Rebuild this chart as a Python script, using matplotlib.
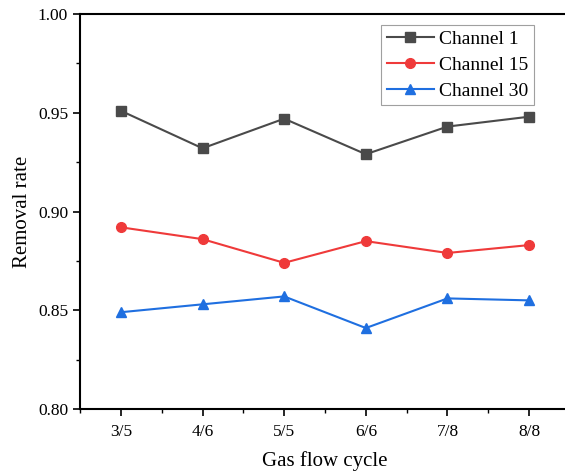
import matplotlib
matplotlib.use("Agg")
import matplotlib.pyplot as plt
from matplotlib.ticker import MultipleLocator, AutoMinorLocator

plt.rcParams["font.family"] = ["Liberation Serif", "DejaVu Serif"]

cycles = ["3/5", "4/6", "5/5", "6/6", "7/8", "8/8"]
channel_1 = [0.951, 0.932, 0.947, 0.929, 0.943, 0.948]
channel_15 = [0.892, 0.886, 0.874, 0.885, 0.879, 0.883]
channel_30 = [0.849, 0.853, 0.857, 0.841, 0.856, 0.855]

fig = plt.figure(figsize=(5.65, 4.73), dpi=100)
# axes run a little past the right edge, like the cropped original
ax = fig.add_axes([80 / 565, 1 - 409 / 473, 490 / 565, 395 / 473])

x = range(len(cycles))
ax.plot(x, channel_1, color="#4a4a4a", marker="s", ms=6.5, lw=1.5, label="Channel 1")
ax.plot(x, channel_15, color="#ef3a3a", marker="o", ms=7, lw=1.5, label="Channel 15")
ax.plot(x, channel_30, color="#1f6fe0", marker="^", ms=7.5, lw=1.5, label="Channel 30")

ax.set_xlim(-0.5, 5.5)
ax.set_ylim(0.80, 1.00)
ax.set_xticks(list(x))
ax.set_xticklabels(cycles)
ax.xaxis.set_minor_locator(MultipleLocator(0.5))
ax.yaxis.set_major_locator(MultipleLocator(0.05))
ax.yaxis.set_minor_locator(AutoMinorLocator(2))
ax.yaxis.set_major_formatter(plt.FormatStrFormatter("%.2f"))

ax.tick_params(which="major", direction="out", length=5, width=1.2, labelsize=12.5)
ax.tick_params(axis="x", which="major", pad=6)
ax.tick_params(which="minor", direction="out", length=3, width=1.0)
for s in ax.spines.values():
    s.set_linewidth(1.5)

ax.set_xlabel("Gas flow cycle", fontsize=15, labelpad=8)
ax.set_ylabel("Removal rate", fontsize=15, labelpad=4)

leg = ax.legend(loc="upper left", bbox_to_anchor=(301 / 490, 0.973), fontsize=14,
                frameon=True, fancybox=False, edgecolor="#888888",
                handlelength=2.4, borderpad=0.3, labelspacing=0.42,
                handletextpad=0.3, borderaxespad=0)
leg.get_frame().set_linewidth(0.8)

fig.savefig("out.png", dpi=100)
